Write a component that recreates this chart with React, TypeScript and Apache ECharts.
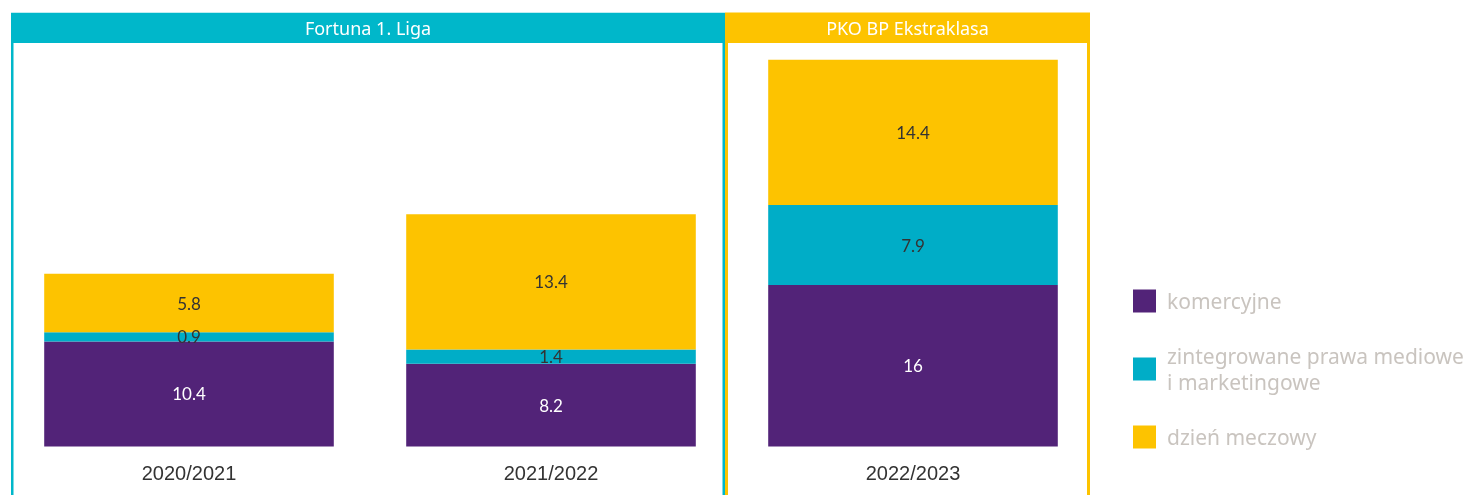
import React, { useEffect, useRef } from "react";
import * as echarts from "echarts";

const categories = ["2020/2021", "2021/2022", "2022/2023"];
const komercyjne = [10.4, 8.2, 16];
const zintegrowane = [0.9, 1.4, 7.9];
const dzienMeczowy = [5.8, 13.4, 14.4];
const seriesNames = ["komercyjne", "zintegrowane prawa mediowe\ni marketingowe", "dzień meczowy"];
const groupTitles = ["Fortuna 1. Liga", "PKO BP Ekstraklasa"];

const PURPLE = "#522378";
const TEAL = "#00adc7";
const YELLOW = "#fdc300";
const HEADER_TEAL = "#00b7ca";

export default function App() {
  const ref = useRef<HTMLDivElement>(null);
  useEffect(() => {
    if (!ref.current) return;
    const chart = echarts.init(ref.current, null, { renderer: "svg" });
    const labelBase = {
      show: true,
      position: "inside",
      fontSize: 17,
      fontFamily: "Lato",
    };
    chart.setOption({
      animation: false,
      grid: { left: 8, right: 372, top: 42.5, bottom: 48.5, containLabel: false },
      xAxis: {
        type: "category",
        data: categories,
        axisLine: { show: false },
        axisTick: { show: false },
        axisLabel: { color: "#333", fontSize: 20, fontFamily: "Liberation Sans", margin: 16 },
      },
      yAxis: { type: "value", min: 0, max: 40, show: false, splitLine: { show: false } },
      legend: {
        orient: "vertical",
        left: 1133,
        top: 288,
        padding: 0,
        itemWidth: 23,
        itemHeight: 23,
        itemGap: 29,
        icon: "rect",
        selectedMode: false,
        textStyle: { color: "#c9c4bf", fontSize: 21, fontFamily: "Noto Sans", lineHeight: 26, padding: [0, 0, 0, 6] },
        data: seriesNames,
      },
      series: [
        {
          name: seriesNames[0], type: "bar", stack: "a", data: komercyjne, barCategoryGap: "20%",
          itemStyle: { color: PURPLE }, label: { ...labelBase, color: "#fff" },
        },
        {
          name: seriesNames[1], type: "bar", stack: "a", data: zintegrowane,
          itemStyle: { color: TEAL }, label: { ...labelBase, color: "#333" },
        },
        {
          name: seriesNames[2], type: "bar", stack: "a", data: dzienMeczowy,
          itemStyle: { color: YELLOW }, label: { ...labelBase, color: "#333" },
        },
      ],
      graphic: [
        { type: "rect", shape: { x: 11, y: 13, width: 714, height: 30 }, style: { fill: HEADER_TEAL } },
        { type: "rect", shape: { x: 12.25, y: 14, width: 711.5, height: 500 }, style: { fill: "none", stroke: HEADER_TEAL, lineWidth: 2.5 } },
        { type: "rect", shape: { x: 725, y: 13, width: 365, height: 30 }, style: { fill: YELLOW } },
        { type: "rect", shape: { x: 726.5, y: 14, width: 362, height: 500 }, style: { fill: "none", stroke: YELLOW, lineWidth: 3 } },
        {
          type: "text", x: 368, y: 28,
          style: { text: groupTitles[0], fill: "#fff", fontSize: 18, fontFamily: "Noto Sans", align: "center", verticalAlign: "middle" },
        },
        {
          type: "text", x: 907.5, y: 28,
          style: { text: groupTitles[1], fill: "#fff", fontSize: 18, fontFamily: "Noto Sans", align: "center", verticalAlign: "middle" },
        },
      ],
    });
    return () => chart.dispose();
  }, []);
  return <div ref={ref} style={{ position: "fixed", left: 0, top: 0, width: 1466, height: 495 }} />;
}
